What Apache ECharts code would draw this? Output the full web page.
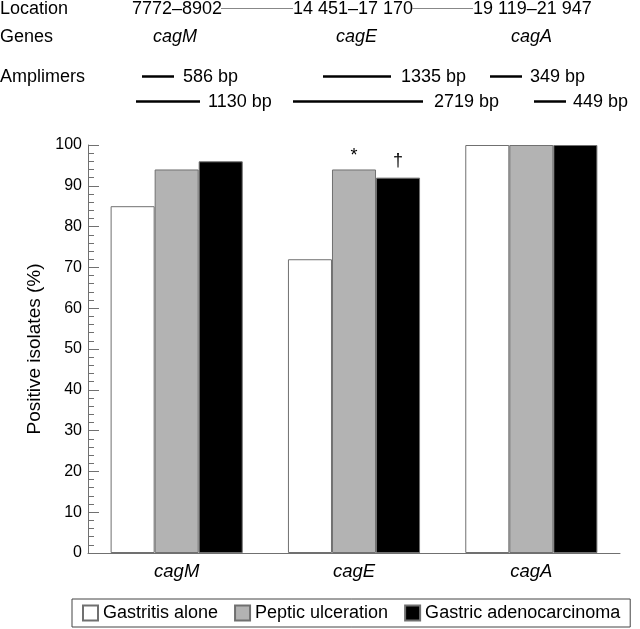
<!DOCTYPE html>
<html>
<head>
<meta charset="utf-8">
<script src="https://cdn.jsdelivr.net/npm/echarts@6/dist/echarts.min.js"></script>
<style>
html,body{margin:0;padding:0;background:#fff;}
#chart{width:640px;height:629px;}
</style>
</head>
<body>
<div id="chart"></div>
<script>
// ---- data ----
var categories = ['cagM', 'cagE', 'cagA'];
var seriesNames = ['Gastritis alone', 'Peptic ulceration', 'Gastric adenocarcinoma'];
var gastritis = [85, 72, 100];
var peptic = [94, 94, 100];
var adeno = [96, 92, 100];
var pepticMarks = ['', '*', ''];
var adenoMarks = ['', '\u2020', ''];
var yTicks = [0, 10, 20, 30, 40, 50, 60, 70, 80, 90, 100];
var locationLabels = ['7772\u20138902', '14 451\u201317 170', '19 119\u201321 947'];
var geneLabels = ['cagM', 'cagE', 'cagA'];
var amplimerRow1 = ['586 bp', '1335 bp', '349 bp'];
var amplimerRow2 = ['1130 bp', '2719 bp', '449 bp'];

var FONT = '"Liberation Sans", Arial, Helvetica, sans-serif';
var border = '#707070';

function withMarks(values, marks, dist) {
  return values.map(function (v, i) {
    if (!marks[i]) return v;
    return {
      value: v,
      label: { show: true, position: 'top', distance: dist, formatter: marks[i],
               fontSize: 18, fontFamily: FONT, color: '#000' }
    };
  });
}

// ---- header graphics (schematic annotations) ----
var graphics = [];
function txt(t, x, y, italic) {
  graphics.push({ type: 'text', style: { text: t, x: x, y: y, fill: '#000',
    font: (italic ? 'italic ' : '') + '18px ' + FONT, textAlign: 'left', textVerticalAlign: 'middle' } });
}
function ln(x1, x2, y, w, c) {
  graphics.push({ type: 'line', shape: { x1: x1, y1: y, x2: x2, y2: y },
    style: { stroke: c, lineWidth: w } });
}
txt('Location', 0, 9);
txt(locationLabels[0], 132, 9);
ln(221, 293, 8.5, 1, '#888');
txt(locationLabels[1], 293, 9);
ln(412, 473, 8.5, 1, '#888');
txt(locationLabels[2], 473, 9);
txt('Genes', 0, 37);
txt(geneLabels[0], 153, 37, true);
txt(geneLabels[1], 336, 37, true);
txt(geneLabels[2], 511, 37, true);
txt('Amplimers', 0, 77);
ln(142, 174, 76.5, 2.5, '#000'); txt(amplimerRow1[0], 183, 77);
ln(323, 391, 76.5, 2.5, '#000'); txt(amplimerRow1[1], 401, 77);
ln(490, 522, 76.5, 2.5, '#000'); txt(amplimerRow1[2], 530, 77);
ln(136, 200, 101.5, 2.5, '#000'); txt(amplimerRow2[0], 208, 102);
ln(293, 423, 101.5, 2.5, '#000'); txt(amplimerRow2[1], 434, 102);
ln(534, 566, 101.5, 2.5, '#000'); txt(amplimerRow2[2], 573, 102);

var chart = echarts.init(document.getElementById('chart'), null, { renderer: 'canvas' });
chart.setOption({
  animation: false,
  backgroundColor: '#fff',
  textStyle: { fontFamily: FONT },
  grid: { left: 88, right: 20, top: 145, bottom: 76, containLabel: false },
  legend: {
    data: seriesNames,
    left: 72, top: 599,
    padding: [5, 10, 5, 10],
    itemGap: 16, itemWidth: 15, itemHeight: 15,
    borderColor: '#444', borderWidth: 1,
    backgroundColor: '#fff',
    textStyle: { fontSize: 18, fontFamily: FONT, color: '#000' },
    icon: 'rect'
  },
  xAxis: {
    type: 'category',
    data: categories,
    axisLine: { lineStyle: { color: border, width: 1 } },
    axisTick: { show: false },
    axisLabel: { fontSize: 18.5, fontStyle: 'italic', color: '#000', margin: 9, fontFamily: FONT }
  },
  yAxis: {
    type: 'value',
    min: yTicks[0], max: yTicks[yTicks.length - 1], interval: 10,
    name: 'Positive isolates (%)',
    nameLocation: 'middle', nameGap: 42,
    nameTextStyle: { fontSize: 19, color: '#000', fontFamily: FONT },
    axisLine: { show: true, lineStyle: { color: border, width: 1 } },
    axisTick: { show: true, inside: true, length: 11, lineStyle: { color: border } },
    minorTick: { show: true, splitNumber: 5, length: 6, lineStyle: { color: border } },
    splitLine: { show: false },
    minorSplitLine: { show: false },
    axisLabel: { fontSize: 16, color: '#000', margin: 6, fontFamily: FONT }
  },
  series: [
    { name: seriesNames[0], type: 'bar', data: gastritis, barGap: '0%', barCategoryGap: '25.5%',
      itemStyle: { color: '#ffffff', borderColor: border, borderWidth: 1 } },
    { name: seriesNames[1], type: 'bar', data: withMarks(peptic, pepticMarks, 4),
      itemStyle: { color: '#b3b3b3', borderColor: border, borderWidth: 1 } },
    { name: seriesNames[2], type: 'bar', data: withMarks(adeno, adenoMarks, 8),
      itemStyle: { color: '#000000', borderColor: border, borderWidth: 1 } }
  ],
  graphic: graphics
});
</script>
</body>
</html>
